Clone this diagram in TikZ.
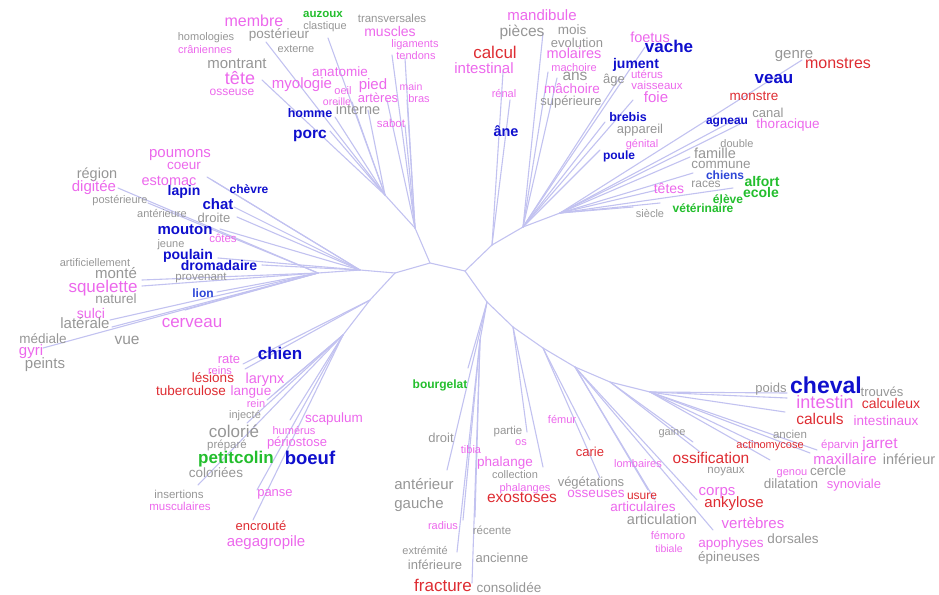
\documentclass[tikz,border=0pt]{standalone}
\usepackage{fontspec}
\setmainfont{Liberation Sans}
\definecolor{pinkc}{RGB}{236,104,236}
\definecolor{redc}{RGB}{222,44,50}
\definecolor{grayc}{RGB}{150,150,150}
\definecolor{bluec}{RGB}{15,15,205}
\definecolor{bluel}{RGB}{45,70,215}
\definecolor{greenc}{RGB}{35,190,45}
\definecolor{linec}{RGB}{194,194,240}
\tikzset{
 w/.style={inner sep=0pt, anchor=mid, yshift=-3pt},
 gr/.style={w, text=grayc, font=\fontsize{#1}{#1}\selectfont},
 pk/.style={w, text=pinkc, font=\fontsize{#1}{#1}\selectfont},
 rd/.style={w, text=redc, font=\fontsize{#1}{#1}\selectfont},
 bl/.style={w, text=bluec, font=\bfseries\fontsize{#1}{#1}\selectfont},
 blt/.style={w, text=bluel, font=\bfseries\fontsize{#1}{#1}\selectfont},
 gn/.style={w, text=greenc, font=\bfseries\fontsize{#1}{#1}\selectfont},
 br/.style={draw=linec, line width=1.1pt, line cap=round},
}
\begin{document}
\begin{tikzpicture}[x=1pt,y=-1pt]
\useasboundingbox (0,0) rectangle (939,594);
% ---------- junctions ----------
\coordinate (J0) at (430,263);
\coordinate (JL) at (395,273);
\coordinate (JR) at (465,271);
\coordinate (UL1) at (415,228);
\coordinate (UL2) at (385,195);
\coordinate (L1) at (360,270);
\coordinate (L2) at (318,273);
\coordinate (LL1) at (370,300);
\coordinate (LL2) at (343,335);
\coordinate (UR0) at (492,245);
\coordinate (UR1) at (523,227);
\coordinate (UR2) at (560,213);
\coordinate (D0) at (487,302);
\coordinate (D1) at (480,340);
\coordinate (B1) at (513,327);
\coordinate (B2) at (543,348);
\coordinate (B3) at (575,367);
\coordinate (B4) at (610,382);
\coordinate (B5) at (650,392);
% ---------- line ends ----------
\coordinate (eclast) at (328,38);
\coordinate (epost) at (266,42);
\coordinate (etete) at (262,80);
\coordinate (ehomme) at (335,117);
\coordinate (eporc) at (330,131);
\coordinate (eint) at (368,110);
\coordinate (eorei) at (352,102);
\coordinate (elig) at (392,55);
\coordinate (etend) at (405,58);
\coordinate (emain) at (407,100);
\coordinate (esabot) at (405,125);
\coordinate (epied) at (387,100);
\coordinate (ecoeur) at (207,177);
\coordinate (ecoeurb) at (212,180);
\coordinate (echat) at (234,207);
\coordinate (edroite) at (237,217);
\coordinate (emouton) at (220,229);
\coordinate (epoulain) at (218,258);
\coordinate (edrom) at (262,265);
\coordinate (esqa) at (142,280);
\coordinate (esqb) at (142,286);
\coordinate (elion) at (217,292);
\coordinate (edig) at (118,188);
\coordinate (eant) at (148,203);
\coordinate (ecerv) at (185,310);
\coordinate (esulci) at (110,320);
\coordinate (elat) at (112,327);
\coordinate (egyri) at (43,348);
\coordinate (erate) at (243,364);
\coordinate (ereins) at (245,369);
\coordinate (erein) at (267,400);
\coordinate (elangue) at (275,393);
\coordinate (ecolorie) at (247,423);
\coordinate (ehum) at (290,420);
\coordinate (eins) at (198,485);
\coordinate (epanse) at (257,490);
\coordinate (eenc) at (253,520);
\coordinate (erenal) at (510,100);
\coordinate (ecalcul) at (503,72);
\coordinate (epieces) at (543,33);
\coordinate (emach) at (548,72);
\coordinate (eans) at (557,78);
\coordinate (ejument) at (620,77);
\coordinate (evache) at (645,47);
\coordinate (efoie) at (633,100);
\coordinate (ebrebis) at (605,122);
\coordinate (epoule) at (600,150);
\coordinate (eagn) at (740,117);
\coordinate (eagnb) at (742,123);
\coordinate (emonstres) at (802,60);
\coordinate (efam) at (690,157);
\coordinate (echiens) at (693,173);
\coordinate (etetes) at (657,190);
\coordinate (eeleve) at (733,188);
\coordinate (evet) at (660,203);
\coordinate (esiecle) at (633,207);
\coordinate (ebourg) at (468,368);
\coordinate (edroit) at (447,470);
\coordinate (erec) at (475,517);
\coordinate (eext) at (457,552);
\coordinate (efrac) at (472,583);
\coordinate (etib) at (463,520);
\coordinate (eos) at (527,432);
\coordinate (ephal) at (543,467);
\coordinate (ecarie) at (590,440);
\coordinate (eveg) at (600,478);
\coordinate (eusure) at (648,490);
\coordinate (eart) at (655,500);
\coordinate (ecorps) at (697,500);
\coordinate (evert) at (713,530);
\coordinate (egaine) at (693,442);
\coordinate (eossi) at (700,452);
\coordinate (emaxi) at (770,460);
\coordinate (ejarret) at (810,453);
\coordinate (ejarretb) at (817,450);
\coordinate (eactino) at (760,445);
\coordinate (echeva) at (787,393);
\coordinate (echevb) at (787,398);
\coordinate (echevc) at (785,412);
% ---------- branches ----------
\draw[br] (JL) -- (J0) -- (JR);
\draw[br] (J0) -- (UL1) -- (UL2);
\foreach \e in {eclast,epost,etete,ehomme,eporc,eint,eorei} \draw[br] (UL2) -- (\e);
\foreach \e in {elig,etend,emain,esabot,epied} \draw[br] (UL1) -- (\e);
\draw[br] (JL) -- (L1) -- (L2);
\foreach \e in {ecoeur,ecoeurb,echat,edroite,emouton,epoulain,edrom} \draw[br] (L1) -- (\e);
\foreach \e in {esqa,esqb,elion,edig,eant,ecerv,esulci,elat,egyri} \draw[br] (L2) -- (\e);
\draw[br] (JL) -- (LL1) -- (LL2);
\foreach \e in {erate,ereins} \draw[br] (LL1) -- (\e);
\foreach \e in {erein,elangue,ecolorie,ehum,eins,epanse,eenc} \draw[br] (LL2) -- (\e);
\draw[br] (JR) -- (UR0) -- (UR1) -- (UR2);
\foreach \e in {erenal,ecalcul} \draw[br] (UR0) -- (\e);
\foreach \e in {epieces,emach,eans,ejument,evache,efoie,ebrebis,epoule} \draw[br] (UR1) -- (\e);
\foreach \e in {eagn,eagnb,emonstres,efam,echiens,etetes,eeleve,evet,esiecle} \draw[br] (UR2) -- (\e);
\draw[br] (JR) -- (D0) -- (D1);
\draw[br] (D0) -- (B1) -- (B2) -- (B3) -- (B4) -- (B5);
\foreach \e in {ebourg,edroit} \draw[br] (D0) -- (\e);
\foreach \e in {erec,eext,efrac,etib} \draw[br] (D1) -- (\e);
\foreach \e in {eos,ephal} \draw[br] (B1) -- (\e);
\foreach \e in {ecarie,eveg} \draw[br] (B2) -- (\e);
\foreach \e in {eusure,eart,ecorps,evert} \draw[br] (B3) -- (\e);
\foreach \e in {egaine,eossi} \draw[br] (B4) -- (\e);
\foreach \e in {emaxi,ejarret,ejarretb,eactino,echeva,echevb,echevc} \draw[br] (B5) -- (\e);
% ---------- words: upper left ----------
\node[pk=16] (membre) at (254,21) {membre};
\node[gr=13.5] (posterieur) at (279,33) {postérieur};
\node[gr=11] (homologies) at (206,35) {homologies};
\node[gr=11] (externe) at (296,47) {externe};
\node[pk=11] (craniennes) at (205,48) {crâniennes};
\node[gr=15] (montrant) at (237,63) {montrant};
\node[pk=18] (tete) at (240,79) {tête};
\node[pk=12] (osseuse) at (232,90) {osseuse};
\node[pk=15] (myologie) at (302,83) {myologie};
\node[bl=12.5] (homme) at (310,112) {homme};
\node[bl=15.5] (porc) at (310,133) {porc};
\node[gn=11.5] (auzoux) at (323,12) {auzoux};
\node[gr=11] (clastique) at (325,24) {clastique};
\node[gr=11.5] (transversales) at (392,17) {transversales};
\node[pk=14] (muscles) at (390,31) {muscles};
\node[pk=11] (ligaments) at (415,42) {ligaments};
\node[pk=11] (tendons) at (416,54) {tendons};
\node[pk=13.5] (anatomie) at (340,71) {anatomie};
\node[pk=11] (oeil) at (343,89) {oeil};
\node[pk=15] (pied) at (373,84) {pied};
\node[pk=10.5] (main) at (411,85) {main};
\node[pk=10.5] (oreille) at (337,100) {oreille};
\node[pk=13] (arteres) at (378,97) {artères};
\node[pk=11] (bras) at (419,97) {bras};
\node[gr=14.5] (interne) at (358,109) {interne};
\node[pk=11.5] (sabot) at (391,122) {sabot};
% ---------- left ----------
\node[pk=15] (poumons) at (180,152) {poumons};
\node[pk=13.5] (coeur) at (184,164) {coeur};
\node[pk=14.5] (estomac) at (169,180) {estomac};
\node[bl=14] (lapin) at (184,190) {lapin};
\node[bl=12] (chevre) at (249,188) {chèvre};
\node[bl=15] (chat) at (218,204) {chat};
\node[gr=14.5] (region) at (97,173) {région};
\node[pk=15] (digitee) at (94,186) {digitée};
\node[gr=11] (posterieure) at (120,198) {postérieure};
\node[gr=11] (anterieure) at (162,212) {antérieure};
\node[gr=13] (droite) at (214,217) {droite};
\node[bl=15] (mouton) at (185,229) {mouton};
\node[pk=11.5] (cotes) at (223,237) {côtes};
\node[gr=11] (jeune) at (171,242) {jeune};
\node[bl=14] (poulain) at (188,254) {poulain};
\node[bl=14] (dromadaire) at (219,265) {dromadaire};
\node[gr=11.5] (provenant) at (201,275) {provenant};
\node[gr=11] (artificiellement) at (95,261) {artificiellement};
\node[gr=15] (monte) at (116,273) {monté};
\node[pk=17] (squelette) at (103,287) {squelette};
\node[gr=13.5] (naturel) at (116,298) {naturel};
\node[blt=12] (lion) at (203,292) {lion};
\node[pk=14] (sulci) at (91,313) {sulci};
\node[gr=15] (laterale) at (85,323) {latérale};
\node[pk=17] (cerveau) at (192,322) {cerveau};
\node[gr=13.5] (mediale) at (43,338) {médiale};
\node[gr=15.5] (vue) at (127,339) {vue};
\node[pk=15] (gyri) at (31,350) {gyri};
\node[gr=15] (peints) at (45,363) {peints};
% ---------- lower left ----------
\node[bl=17] (chien) at (280,354) {chien};
\node[pk=13] (rate) at (229,358) {rate};
\node[pk=11] (reins) at (220,369) {reins};
\node[rd=13.5] (lesions) at (213,377) {lésions};
\node[pk=14.5] (larynx) at (265,378) {larynx};
\node[rd=13.5] (tuberculose) at (191,390) {tuberculose};
\node[pk=13.5] (langue) at (251,390) {langue};
\node[pk=11] (rein) at (256,402) {rein};
\node[gr=11] (injecte) at (245,413) {injecté};
\node[pk=13.5] (scapulum) at (334,417) {scapulum};
\node[gr=17] (colorie) at (234,432) {colorié};
\node[pk=11] (humerus) at (294,429) {humérus};
\node[gr=11.5] (prepare) at (227,443) {préparé};
\node[pk=13] (periostose) at (297,441) {périostose};
\node[gn=17] (petitcolin) at (236,458) {petitcolin};
\node[bl=18.5] (boeuf) at (310,459) {boeuf};
\node[gr=13.5] (coloriees) at (216,472) {coloriées};
\node[gr=11.5] (insertions) at (179,493) {insertions};
\node[pk=13] (panse) at (275,491) {panse};
\node[pk=11.5] (musculaires) at (180,505) {musculaires};
\node[rd=13] (encroute) at (261,525) {encrouté};
\node[pk=15] (aegagropile) at (266,541) {aegagropile};
% ---------- upper right ----------
\node[pk=15] (mandibule) at (542,15) {mandibule};
\node[gr=15.5] (pieces) at (522,31) {pièces};
\node[gr=13.5] (mois) at (572,29) {mois};
\node[gr=13] (evolution) at (577,42) {evolution};
\node[rd=17] (calcul) at (495,53) {calcul};
\node[pk=14.5] (molaires) at (574,53) {molaires};
\node[pk=15] (intestinal) at (484,68) {intestinal};
\node[pk=11] (machoire) at (574,66) {machoire};
\node[gr=15.5] (ans) at (575,75) {ans};
\node[gr=13] (age) at (614,78) {âge};
\node[pk=13.5] (machoireb) at (572,88) {mâchoire};
\node[pk=11] (renal) at (504,92) {rénal};
\node[gr=13] (superieure) at (571,100) {supérieure};
\node[bl=14.5] (ane) at (506,131) {âne};
\node[pk=14.5] (foetus) at (650,37) {foetus};
\node[bl=17] (vache) at (669,47) {vache};
\node[bl=14] (jument) at (636,63) {jument};
\node[pk=11.5] (uterus) at (647,73) {utérus};
\node[pk=11.5] (vaisseaux) at (657,84) {vaisseaux};
\node[pk=15] (foie) at (656,97) {foie};
\node[gr=15] (genre) at (794,53) {genre};
\node[rd=16] (monstres) at (838,63) {monstres};
\node[bl=17] (veau) at (774,78) {veau};
\node[rd=13.5] (monstre) at (754,95) {monstre};
\node[bl=12.5] (brebis) at (628,116) {brebis};
\node[bl=12] (agneau) at (727,119) {agneau};
\node[gr=13] (canal) at (768,112) {canal};
\node[pk=13.5] (thoracique) at (788,123) {thoracique};
\node[gr=13] (appareil) at (640,128) {appareil};
\node[pk=11] (genital) at (642,142) {génital};
\node[gr=11] (double) at (737,142) {double};
\node[bl=12] (poule) at (619,154) {poule};
\node[gr=14.5] (famille) at (715,153) {famille};
\node[gr=13.5] (commune) at (721,163) {commune};
\node[blt=12] (chiens) at (725,174) {chiens};
\node[gr=12] (races) at (706,182) {races};
\node[gn=14] (alfort) at (762,181) {alfort};
\node[pk=14] (tetes) at (669,188) {têtes};
\node[gn=14] (ecole) at (761,192) {ecole};
\node[gn=12] (eleve) at (728,198) {élève};
\node[gn=12] (veterinaire) at (703,207) {vétérinaire};
\node[gr=11] (siecle) at (650,212) {siècle};
% ---------- bottom middle ----------
\node[gn=12] (bourgelat) at (440,383) {bourgelat};
\node[gr=13] (droit) at (441,437) {droit};
\node[pk=11] (tibia) at (471,448) {tibia};
\node[gr=11.5] (partie) at (508,429) {partie};
\node[pk=11] (os) at (521,440) {os};
\node[pk=11] (femur) at (562,418) {fémur};
\node[pk=13.5] (phalange) at (505,461) {phalange};
\node[rd=13] (carie) at (590,451) {carie};
\node[gr=11] (collection) at (515,473) {collection};
\node[gr=15] (anterieur) at (424,484) {antérieur};
\node[pk=11] (phalanges) at (525,486) {phalanges};
\node[gr=13] (vegetations) at (591,481) {végétations};
\node[rd=15.5] (exostoses) at (522,497) {exostoses};
\node[pk=13.5] (osseuses) at (596,492) {osseuses};
\node[gr=15] (gauche) at (419,503) {gauche};
\node[pk=11] (radius) at (443,524) {radius};
\node[gr=11.5] (recente) at (492,529) {récente};
\node[gr=11] (extremite) at (425,549) {extrémité};
\node[gr=13] (ancienne) at (502,557) {ancienne};
\node[gr=13] (inferieure) at (435,564) {inférieure};
\node[rd=17] (fracture) at (443,586) {fracture};
\node[gr=13.5] (consolidee) at (509,587) {consolidée};
% ---------- lower right ----------
\node[gr=13] (poids) at (771,387) {poids};
\node[bl=23] (cheval) at (826,388) {cheval};
\node[gr=13] (trouves) at (882,391) {trouvés};
\node[pk=18] (intestin) at (825,403) {intestin};
\node[rd=14] (calculeux) at (891,403) {calculeux};
\node[rd=15.5] (calculs) at (820,419) {calculs};
\node[pk=13.5] (intestinaux) at (886,420) {intestinaux};
\node[gr=11] (gaine) at (672,430) {gaine};
\node[gr=11.5] (ancien) at (790,433) {ancien};
\node[rd=11] (actinomycose) at (770,443) {actinomycose};
\node[pk=11.5] (eparvin) at (840,443) {éparvin};
\node[pk=15.5] (jarret) at (880,443) {jarret};
\node[rd=15.5] (ossification) at (711,458) {ossification};
\node[pk=11] (lombaires) at (638,462) {lombaires};
\node[pk=15] (maxillaire) at (845,459) {maxillaire};
\node[gr=14.5] (inferieur) at (909,459) {inférieur};
\node[gr=11.5] (noyaux) at (726,468) {noyaux};
\node[pk=11] (genou) at (792,470) {genou};
\node[gr=13.5] (cercle) at (828,470) {cercle};
\node[gr=13.5] (dilatation) at (791,483) {dilatation};
\node[pk=13] (synoviale) at (854,483) {synoviale};
\node[pk=15] (corps) at (717,490) {corps};
\node[rd=12] (usure) at (642,494) {usure};
\node[rd=15] (ankylose) at (734,502) {ankylose};
\node[pk=13.5] (articulaires) at (643,506) {articulaires};
\node[gr=14.5] (articulation) at (662,519) {articulation};
\node[pk=15] (vertebres) at (753,523) {vertèbres};
\node[pk=11] (femoro) at (668,534) {fémoro};
\node[gr=13.5] (dorsales) at (793,538) {dorsales};
\node[pk=13.5] (apophyses) at (731,542) {apophyses};
\node[pk=10.5] (tibiale) at (669,547) {tibiale};
\node[gr=13.5] (epineuses) at (729,556) {épineuses};
\end{tikzpicture}
\end{document}
